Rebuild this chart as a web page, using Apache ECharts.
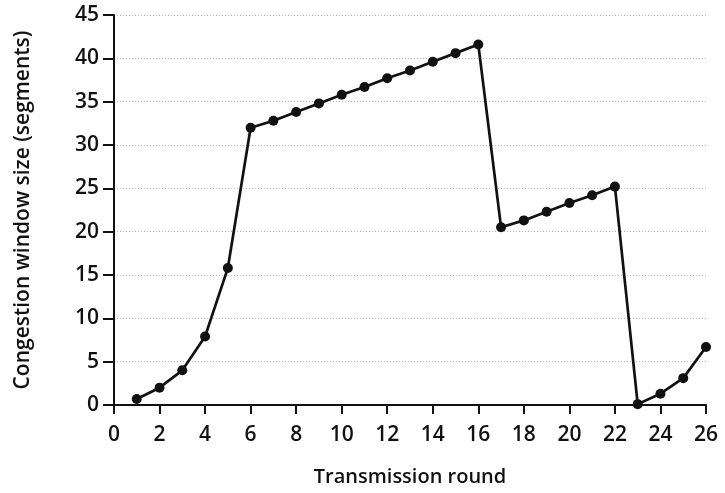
<!DOCTYPE html>
<html><head><meta charset="utf-8">
<script src="https://cdn.jsdelivr.net/npm/echarts@6/dist/echarts.min.js"></script>
<style>html,body{margin:0;padding:0;background:#fff}#c{width:725px;height:493px}</style>
</head><body><div id="c"></div>
<script>
const rounds = [1,2,3,4,5,6,7,8,9,10,11,12,13,14,15,16,17,18,19,20,21,22,23,24,25,26];
const cwnd = [0.7,2.0,4.0,7.9,15.8,32.0,32.8,33.8,34.8,35.8,36.7,37.7,38.6,39.6,40.6,41.6,20.5,21.3,22.3,23.3,24.2,25.2,0.1,1.3,3.1,6.7];
const xTicks = [0,2,4,6,8,10,12,14,16,18,20,22,24,26];
const yTicks = [0,5,10,15,20,25,30,35,40,45];
const xTitle = 'Transmission round';
const yTitle = 'Congestion window size (segments)';

const font = '"Open Sans", "Noto Sans", sans-serif';
const chart = echarts.init(document.getElementById('c'));
chart.setOption({
  animation: false,
  grid: {left: 114, right: 19, top: 15, bottom: 88},
  xAxis: {
    type: 'value', min: xTicks[0], max: xTicks[xTicks.length-1], interval: 2,
    name: xTitle, nameLocation: 'middle', nameGap: 62,
    nameTextStyle: {fontFamily: font, fontSize: 20, fontWeight: 600, color: '#111'},
    axisLine: {show: true, lineStyle: {color: '#111', width: 2}},
    axisTick: {show: true, length: 9, lineStyle: {color: '#111', width: 2}},
    axisLabel: {fontFamily: font, fontSize: 21, fontWeight: 600, color: '#111', margin: 20},
    splitLine: {show: false}
  },
  yAxis: {
    type: 'value', min: yTicks[0], max: yTicks[yTicks.length-1], interval: 5,
    name: yTitle, nameLocation: 'middle', nameGap: 80,
    nameTextStyle: {fontFamily: font, fontSize: 21, fontWeight: 600, color: '#111'},
    axisLine: {show: true, lineStyle: {color: '#111', width: 2}},
    axisTick: {show: true, length: 11, lineStyle: {color: '#111', width: 2}},
    axisLabel: {fontFamily: font, fontSize: 21, fontWeight: 600, color: '#111', margin: 15},
    splitLine: {show: true, lineStyle: {color: '#bbb', width: 1, type: [1, 2]}}
  },
  series: [{
    type: 'line',
    data: rounds.map((r, i) => [r, cwnd[i]]),
    symbol: 'circle', symbolSize: 10,
    lineStyle: {color: '#111', width: 2.7},
    itemStyle: {color: '#111'}
  }]
});
</script></body></html>
